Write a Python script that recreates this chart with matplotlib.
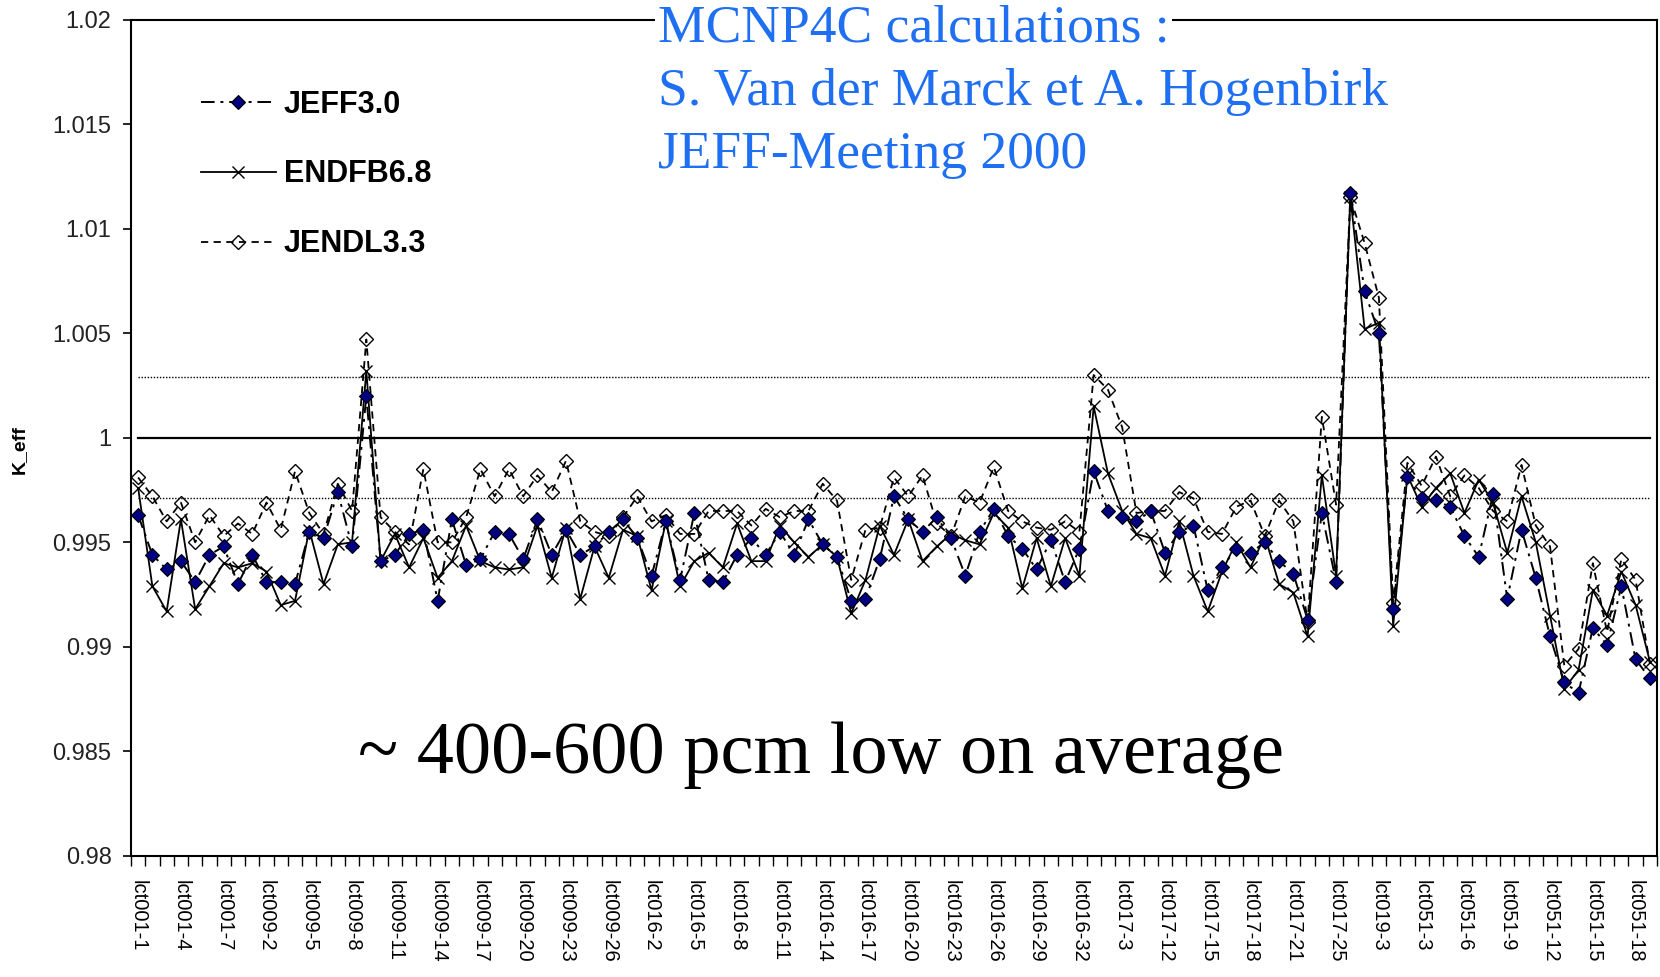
import numpy as np
import matplotlib
matplotlib.use("Agg")
import matplotlib.pyplot as plt
from matplotlib.ticker import FuncFormatter

# benchmark cases (only every 3rd one is labelled on the axis)
cases = [
    "lct001-1", "lct001-2", "lct001-3", "lct001-4", "lct001-5", "lct001-6", "lct001-7", "lct001-8",
    "lct009-1", "lct009-2", "lct009-3", "lct009-4", "lct009-5", "lct009-6", "lct009-7", "lct009-8",
    "lct009-9", "lct009-10", "lct009-11", "lct009-12", "lct009-13", "lct009-14", "lct009-15",
    "lct009-16", "lct009-17", "lct009-18", "lct009-19", "lct009-20", "lct009-21", "lct009-22",
    "lct009-23", "lct009-24", "lct009-25", "lct009-26", "lct009-27",
    "lct016-1", "lct016-2", "lct016-3", "lct016-4", "lct016-5", "lct016-6", "lct016-7", "lct016-8",
    "lct016-9", "lct016-10", "lct016-11", "lct016-12", "lct016-13", "lct016-14", "lct016-15",
    "lct016-16", "lct016-17", "lct016-18", "lct016-19", "lct016-20", "lct016-21", "lct016-22",
    "lct016-23", "lct016-24", "lct016-25", "lct016-26", "lct016-27", "lct016-28", "lct016-29",
    "lct016-30", "lct016-31", "lct016-32",
    "lct017-1", "lct017-2", "lct017-3", "lct017-10", "lct017-11", "lct017-12", "lct017-13",
    "lct017-14", "lct017-15", "lct017-16", "lct017-17", "lct017-18", "lct017-19", "lct017-20",
    "lct017-21", "lct017-22", "lct017-23", "lct017-25",
    "lct019-1", "lct019-2", "lct019-3",
    "lct051-1", "lct051-2", "lct051-3", "lct051-4", "lct051-5", "lct051-6", "lct051-7", "lct051-8",
    "lct051-9", "lct051-10", "lct051-11", "lct051-12", "lct051-13", "lct051-14", "lct051-15",
    "lct051-16", "lct051-17", "lct051-18", "lct051-19",
]

jeff = [
    0.9963, 0.9944, 0.9937, 0.9941, 0.9931, 0.9944, 0.9948, 0.9930, 0.9944, 0.9931,
    0.9931, 0.9930, 0.9955, 0.9952, 0.9974, 0.9948, 1.0020, 0.9941, 0.9944, 0.9954,
    0.9956, 0.9922, 0.9961, 0.9939, 0.9942, 0.9955, 0.9954, 0.9942, 0.9961, 0.9944,
    0.9956, 0.9944, 0.9948, 0.9955, 0.9961, 0.9952, 0.9934, 0.9960, 0.9932, 0.9964,
    0.9932, 0.9931, 0.9944, 0.9952, 0.9944, 0.9955, 0.9944, 0.9961, 0.9949, 0.9943,
    0.9922, 0.9923, 0.9942, 0.9972, 0.9961, 0.9955, 0.9962, 0.9952, 0.9934, 0.9955,
    0.9966, 0.9953, 0.9947, 0.9937, 0.9951, 0.9931, 0.9947, 0.9984, 0.9965, 0.9962,
    0.9960, 0.9965, 0.9945, 0.9955, 0.9958, 0.9927, 0.9938, 0.9947, 0.9945, 0.9950,
    0.9941, 0.9935, 0.9913, 0.9964, 0.9931, 1.0117, 1.0070, 1.0050, 0.9918, 0.9981,
    0.9971, 0.9970, 0.9967, 0.9953, 0.9943, 0.9973, 0.9923, 0.9956, 0.9933, 0.9905,
    0.9883, 0.9878, 0.9909, 0.9901, 0.9929, 0.9894, 0.9885,
]

endf = [
    0.9976, 0.9929, 0.9917, 0.9961, 0.9918, 0.9929, 0.9940, 0.9938, 0.9940, 0.9936,
    0.9920, 0.9922, 0.9956, 0.9930, 0.9949, 0.9950, 1.0032, 0.9941, 0.9954, 0.9938,
    0.9952, 0.9933, 0.9941, 0.9958, 0.9941, 0.9938, 0.9937, 0.9938, 0.9958, 0.9933,
    0.9957, 0.9923, 0.9948, 0.9933, 0.9956, 0.9953, 0.9927, 0.9960, 0.9929, 0.9941,
    0.9945, 0.9938, 0.9959, 0.9941, 0.9941, 0.9958, 0.9950, 0.9943, 0.9949, 0.9943,
    0.9916, 0.9932, 0.9958, 0.9944, 0.9961, 0.9941, 0.9948, 0.9954, 0.9951, 0.9949,
    0.9964, 0.9957, 0.9928, 0.9952, 0.9929, 0.9952, 0.9934, 1.0015, 0.9983, 0.9965,
    0.9954, 0.9952, 0.9934, 0.9960, 0.9934, 0.9917, 0.9936, 0.9950, 0.9938, 0.9953,
    0.9930, 0.9926, 0.9905, 0.9982, 0.9934, 1.0115, 1.0052, 1.0055, 0.9910, 0.9982,
    0.9967, 0.9976, 0.9983, 0.9964, 0.9980, 0.9969, 0.9945, 0.9972, 0.9950, 0.9915,
    0.9880, 0.9889, 0.9927, 0.9915, 0.9936, 0.9920, 0.9893,
]

jendl = [
    0.9981, 0.9972, 0.9960, 0.9969, 0.9950, 0.9963, 0.9953, 0.9959, 0.9954, 0.9969,
    0.9956, 0.9984, 0.9964, 0.9954, 0.9978, 0.9965, 1.0047, 0.9962, 0.9955, 0.9949,
    0.9985, 0.9950, 0.9950, 0.9962, 0.9985, 0.9972, 0.9985, 0.9972, 0.9982, 0.9974,
    0.9989, 0.9960, 0.9955, 0.9953, 0.9962, 0.9972, 0.9960, 0.9963, 0.9954, 0.9954,
    0.9965, 0.9965, 0.9965, 0.9958, 0.9966, 0.9962, 0.9965, 0.9965, 0.9978, 0.9970,
    0.9932, 0.9956, 0.9957, 0.9981, 0.9972, 0.9982, 0.9959, 0.9953, 0.9972, 0.9969,
    0.9986, 0.9965, 0.9960, 0.9957, 0.9956, 0.9960, 0.9955, 1.0030, 1.0023, 1.0005,
    0.9964, 0.9965, 0.9965, 0.9974, 0.9971, 0.9955, 0.9954, 0.9967, 0.9970, 0.9953,
    0.9970, 0.9960, 0.9912, 1.0010, 0.9968, 1.0115, 1.0093, 1.0067, 0.9921, 0.9988,
    0.9977, 0.9991, 0.9972, 0.9982, 0.9976, 0.9965, 0.9960, 0.9987, 0.9958, 0.9948,
    0.9891, 0.9899, 0.9940, 0.9907, 0.9942, 0.9932, 0.9892,
]

# reference level and uncertainty band
keff_ref = 1.0
band = 0.0029

W, H = 1660, 977
fig = plt.figure(figsize=(W / 100, H / 100), dpi=100)
ax = fig.add_axes([131 / W, 1 - 856 / H, (1657 - 131) / W, (856 - 19.5) / H])

x = np.arange(len(cases))
n = len(cases)

# reference lines
ax.plot(x, [keff_ref] * n, color="black", lw=1.6, zorder=1)
ax.plot(x, [keff_ref + band] * n, color="black", lw=1.0, ls=(0, (1, 1.2)), zorder=1)
ax.plot(x, [keff_ref - band] * n, color="black", lw=1.0, ls=(0, (1, 1.2)), zorder=1)

# series
l3, = ax.plot(x, jendl, color="black", lw=1.3, ls=(0, (4, 3)), marker="D", ms=7,
              mfc="none", mec="black", mew=1.0, label="JENDL3.3", zorder=2)
l2, = ax.plot(x, endf, color="black", lw=1.3, ls="-", marker="x", ms=8,
              mec="black", mew=1.0, label="ENDFB6.8", zorder=3)
l1, = ax.plot(x, jeff, color="black", lw=1.4, ls=(0, (7, 3, 1.5, 3)), marker="D", ms=7.5,
              mfc="#000080", mec="black", mew=0.8, label="JEFF3.0", zorder=4)

ax.set_xlim(-0.5, n - 0.5)
ax.set_ylim(0.98, 1.02)

# y axis
ax.set_yticks(np.arange(0.98, 1.0201, 0.005))
ax.yaxis.set_major_formatter(FuncFormatter(lambda v, p: "%g" % round(v, 4)))
ax.tick_params(axis="y", direction="out", length=6, width=1.2, pad=8,
               labelsize=17, labelcolor="#222222")
for t in ax.get_yticklabels():
    t.set_family("Liberation Sans")

# x axis: labels every 3rd case, tick marks between cases
ax.set_xticks(x[::3])
ax.set_xticklabels(cases[::3], rotation=270, fontsize=14.5, family="Liberation Sans",
                   ha="center", va="top")
ax.tick_params(axis="x", which="major", length=0, pad=17)
ax.set_xticks(np.arange(-0.5, n, 1.0), minor=True)
ax.tick_params(axis="x", which="minor", direction="out", length=7, width=1.0)

for s in ax.spines.values():
    s.set_linewidth(1.5)
    s.set_color("black")

fig.text(19 / W, 1 - 450 / H, "K_eff", rotation=90, fontsize=14, fontweight="bold",
         family="Liberation Sans", ha="center", va="center")

leg = ax.legend(handles=[l1, l2, l3], loc="upper left", bbox_to_anchor=(0.0459, 0.916),
                frameon=False, handlelength=2.45, handletextpad=0.26,
                labelspacing=1.3, borderpad=0, borderaxespad=0,
                prop={"family": "Liberation Sans", "weight": "bold", "size": 22})

blue = "#1f6ff2"
fig.text(658 / W, 1 - 41 / H, "MCNP4C calculations :", color=blue, fontsize=38.5,
         family="Liberation Serif", ha="left", va="baseline",
         bbox=dict(facecolor="white", edgecolor="none", pad=2))
fig.text(658 / W, 1 - 105 / H, "S. Van der Marck et A. Hogenbirk", color=blue,
         fontsize=38.5, family="Liberation Serif", ha="left", va="baseline")
fig.text(658 / W, 1 - 168 / H, "JEFF-Meeting 2000", color=blue, fontsize=38.5,
         family="Liberation Serif", ha="left", va="baseline")

fig.text(358 / W, 1 - 773 / H, "~ 400-600 pcm low on average", color="black",
         fontsize=53.5, family="Liberation Serif", ha="left", va="baseline")

fig.savefig("out.png", dpi=100, facecolor="white")
